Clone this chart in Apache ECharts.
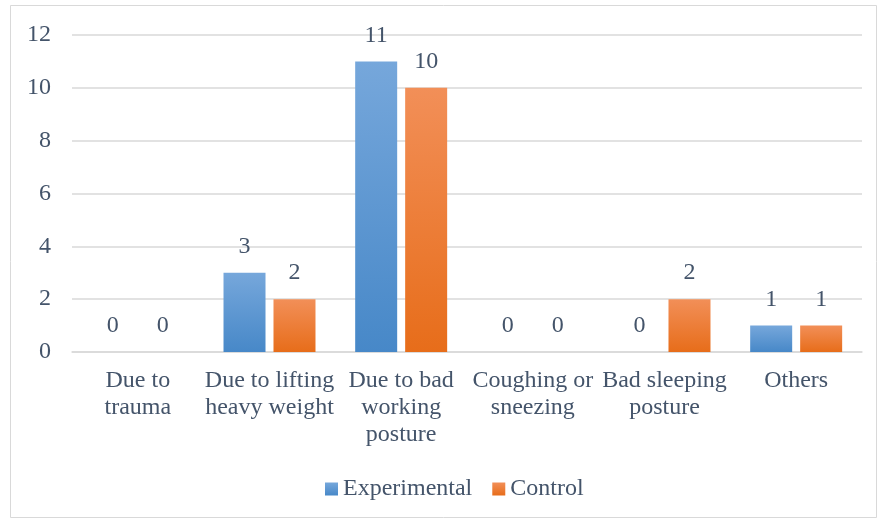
<!DOCTYPE html>
<html>
<head>
<meta charset="utf-8">
<script src="https://cdn.jsdelivr.net/npm/echarts@6/dist/echarts.min.js"></script>
<style>
  html, body { margin: 0; padding: 0; background: #fff; }
  #chart { width: 881px; height: 521px; }
</style>
</head>
<body>
<div id="chart"></div>
<script>
var categories = ['Due to\ntrauma', 'Due to lifting\nheavy weight', 'Due to bad\nworking\nposture',
    'Coughing or\nsneezing', 'Bad sleeping\nposture', 'Others'];
var experimental = [0, 3, 11, 0, 0, 1];
var control = [0, 2, 10, 0, 2, 1];

var textColor = '#44546A';
var font = '"Liberation Serif", "Times New Roman", serif';
var fs = 24;

function grad(top, bottom) {
    return new echarts.graphic.LinearGradient(0, 0, 0, 1, [
        { offset: 0, color: top },
        { offset: 1, color: bottom }
    ]);
}

var myChart = echarts.init(document.getElementById('chart'));

var option = {
    backgroundColor: '#fff',
    textStyle: { fontFamily: font },
    graphic: [{
        type: 'rect',
        shape: { x: 10.5, y: 5.5, width: 866, height: 512 },
        style: { fill: 'none', stroke: '#D9D9D9', lineWidth: 1 },
        silent: true
    }],
    grid: { left: 72, right: 19, top: 35, bottom: 169 },
    legend: {
        bottom: 15,
        left: 320,
        itemWidth: 13,
        itemHeight: 13,
        itemGap: 20,
        icon: 'rect',
        textStyle: { color: textColor, fontSize: fs, fontFamily: font },
        data: ['Experimental', 'Control']
    },
    xAxis: {
        type: 'category',
        data: categories,
        axisLine: { lineStyle: { color: '#D9D9D9', width: 1.5 } },
        axisTick: { show: false },
        axisLabel: {
            color: textColor, fontSize: fs, fontFamily: font,
            lineHeight: 27, margin: 15, interval: 0
        }
    },
    yAxis: {
        type: 'value',
        min: 0,
        max: 12,
        interval: 2,
        axisLine: { show: false },
        axisTick: { show: false },
        splitLine: { lineStyle: { color: '#D9D9D9', width: 1.5 } },
        axisLabel: { color: textColor, fontSize: fs, fontFamily: font, margin: 21 }
    },
    series: [
        {
            name: 'Experimental',
            type: 'bar',
            data: experimental,
            barWidth: 42,
            barGap: '19%',
            itemStyle: { color: grad('#76A7DB', '#4788C8') },
            label: { show: true, position: 'top', distance: 14, color: textColor, fontSize: fs, fontFamily: font }
        },
        {
            name: 'Control',
            type: 'bar',
            data: control,
            barWidth: 42,
            itemStyle: { color: grad('#F28F58', '#E76D1A') },
            label: { show: true, position: 'top', distance: 14, color: textColor, fontSize: fs, fontFamily: font }
        }
    ]
};

myChart.setOption(option);
</script>
</body>
</html>
